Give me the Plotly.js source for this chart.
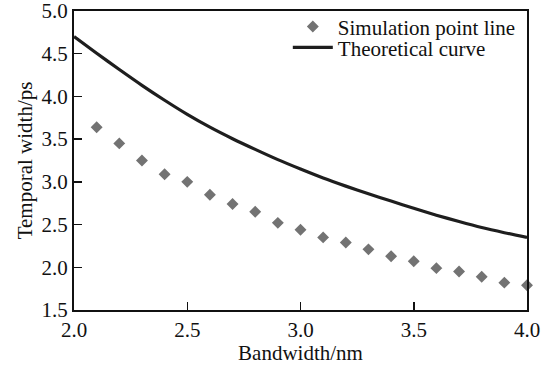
<!DOCTYPE html>
<html>
<head>
<meta charset="utf-8">
<script src="https://cdn.plot.ly/plotly-3.0.1.min.js"></script>
<style>html,body{margin:0;padding:0;background:#fff;}#chart{width:559px;height:365px;}</style>
</head>
<body>
<div id="chart"></div>
<script>
// Simulation points
const simX = [2.1, 2.2, 2.3, 2.4, 2.5, 2.6, 2.7, 2.8, 2.9, 3.0, 3.1, 3.2, 3.3, 3.4, 3.5, 3.6, 3.7, 3.8, 3.9, 4.0];
const simY = [3.64, 3.45, 3.25, 3.09, 3.00, 2.85, 2.74, 2.65, 2.52, 2.44, 2.35, 2.29, 2.21, 2.13, 2.07, 1.99, 1.95, 1.89, 1.82, 1.79];
// Theoretical curve
const theoX = [2.0, 2.1, 2.2, 2.3, 2.4, 2.5, 2.6, 2.7, 2.8, 2.9, 3.0, 3.1, 3.2, 3.3, 3.4, 3.5, 3.6, 3.7, 3.8, 3.9, 4.0];
const theoY = [4.70, 4.505, 4.315, 4.13, 3.955, 3.79, 3.64, 3.505, 3.38, 3.26, 3.15, 3.045, 2.95, 2.86, 2.775, 2.69, 2.61, 2.535, 2.465, 2.405, 2.35];
const xTicks = [2.0, 2.5, 3.0, 3.5, 4.0];
const yTicks = [1.5, 2.0, 2.5, 3.0, 3.5, 4.0, 4.5, 5.0];

const font = {family: '"Liberation Serif", "Times New Roman", serif', size: 21, color: '#111'};

const traces = [
  {x: simX, y: simY, type: 'scatter', mode: 'markers', name: 'Simulation point line',
   marker: {symbol: 'diamond', size: 7, color: '#737373', line: {color: '#737373', width: 2}},
   cliponaxis: false, legend: 'legend'},
  {x: theoX, y: theoY, type: 'scatter', mode: 'lines', name: 'Theoretical curve',
   line: {color: '#1e1e1e', width: 3.2, shape: 'spline', smoothing: 0.8}, legend: 'legend2'}
];

const axisCommon = {
  showline: true, linecolor: '#111', linewidth: 2, mirror: true,
  ticks: 'inside', ticklen: 8, tickwidth: 1.5, tickcolor: '#111',
  showgrid: false, zeroline: false, tickfont: font, automargin: true,
  ticklabeloverflow: 'allow'
};

const legendCommon = {xanchor: 'left', yanchor: 'middle', bgcolor: 'rgba(0,0,0,0)',
  font: font, itemwidth: 40, borderwidth: 0};

const layout = {
  width: 559, height: 365,
  margin: {l: 74, r: 32, t: 11, b: 55, autoexpand: false},
  paper_bgcolor: '#fff', plot_bgcolor: '#fff',
  font: font,
  xaxis: Object.assign({}, axisCommon, {
    range: [2.0, 4.0], tickvals: xTicks, ticktext: xTicks.map(v => v.toFixed(1)),
    title: {text: 'Bandwidth/nm', font: font, standoff: 0}
  }),
  yaxis: Object.assign({}, axisCommon, {
    range: [1.5, 5.0], tickvals: yTicks, ticktext: yTicks.map(v => v.toFixed(1)),
    title: {text: 'Temporal width/ps', font: font, standoff: 3}
  }),
  showlegend: true,
  legend: Object.assign({}, legendCommon, {x: 0.472, y: 0.947}),
  legend2: Object.assign({}, legendCommon, {x: 0.472, y: 0.877})
};

Plotly.newPlot('chart', traces, layout, {displayModeBar: false, staticPlot: true});
</script>
</body>
</html>
